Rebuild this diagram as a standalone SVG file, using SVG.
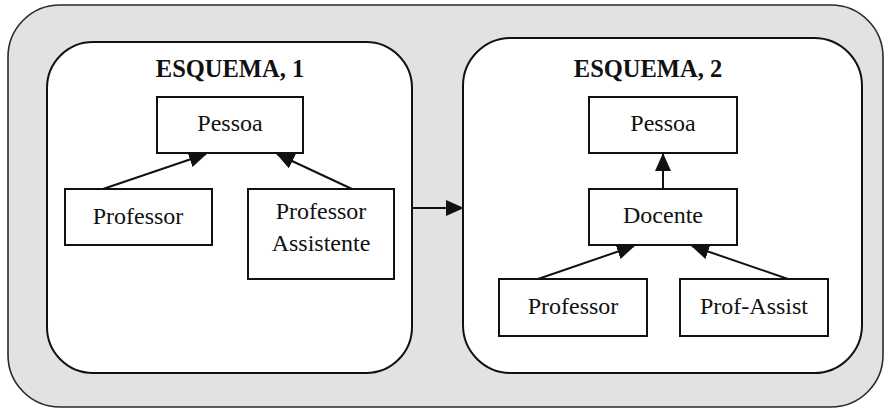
<svg xmlns="http://www.w3.org/2000/svg" width="885" height="409" viewBox="0 0 885 409">
  <style>
    .frame { fill: #e2e2e2; stroke: #2a2a2a; stroke-width: 1.6; }
    .panel { fill: #ffffff; stroke: #111; stroke-width: 2; }
    .box { fill: #ffffff; stroke: #111; stroke-width: 2; }
    .title { font-family: "Liberation Serif", "Times New Roman", serif; font-weight: bold; font-size: 24.5px; fill: #111; text-anchor: middle; }
    .lbl { font-family: "Liberation Serif", "Times New Roman", serif; font-size: 24px; fill: #111; text-anchor: middle; }
    .edge { fill: none; stroke: #111; stroke-width: 2; marker-end: url(#tri); }
  </style>
  <defs>
    <marker id="tri" markerUnits="userSpaceOnUse" markerWidth="18" markerHeight="16" viewBox="0 0 18 16" refX="17" refY="8" orient="auto">
      <path d="M0,0 L18,8 L0,16 Z" fill="#111"/>
    </marker>
  </defs>

  <rect class="frame" x="8" y="5" width="875" height="402" rx="52" ry="52"/>

  <g id="esquema1">
    <rect class="panel" x="47" y="42" width="365" height="331" rx="46" ry="46"/>
    <text class="title" x="230" y="77">ESQUEMA, 1</text>
  </g>
  <g id="esquema2">
    <rect class="panel" x="463" y="38" width="399" height="335" rx="48" ry="48"/>
    <text class="title" x="648" y="77">ESQUEMA, 2</text>
  </g>

  <g id="e1-pessoa">
    <rect class="box" x="157" y="97" width="146" height="56"/>
    <text class="lbl" x="230" y="131">Pessoa</text>
  </g>
  <g id="e1-professor">
    <rect class="box" x="65" y="189" width="147" height="56"/>
    <text class="lbl" x="138" y="224">Professor</text>
  </g>
  <g id="e1-professor-assistente">
    <rect class="box" x="248" y="189" width="146" height="90"/>
    <text class="lbl" x="321" y="219">Professor</text>
    <text class="lbl" x="321" y="251">Assistente</text>
  </g>

  <g id="e2-pessoa">
    <rect class="box" x="589" y="97" width="148" height="56"/>
    <text class="lbl" x="663" y="131">Pessoa</text>
  </g>
  <g id="e2-docente">
    <rect class="box" x="589" y="189" width="148" height="56"/>
    <text class="lbl" x="663" y="223">Docente</text>
  </g>
  <g id="e2-professor">
    <rect class="box" x="499" y="279" width="148" height="57"/>
    <text class="lbl" x="573" y="314">Professor</text>
  </g>
  <g id="e2-prof-assist">
    <rect class="box" x="680" y="279" width="148" height="57"/>
    <text class="lbl" x="754" y="314">Prof-Assist</text>
  </g>

  <g id="connectors">
    <line class="edge" x1="103" y1="189" x2="206" y2="154"/>
    <line class="edge" x1="352" y1="189" x2="277" y2="154"/>
    <line class="edge" x1="412" y1="208" x2="463" y2="208"/>
    <line class="edge" x1="663" y1="189" x2="663" y2="154"/>
    <line class="edge" x1="538" y1="279" x2="634" y2="246"/>
    <line class="edge" x1="788" y1="279" x2="692" y2="246"/>
  </g>
</svg>
